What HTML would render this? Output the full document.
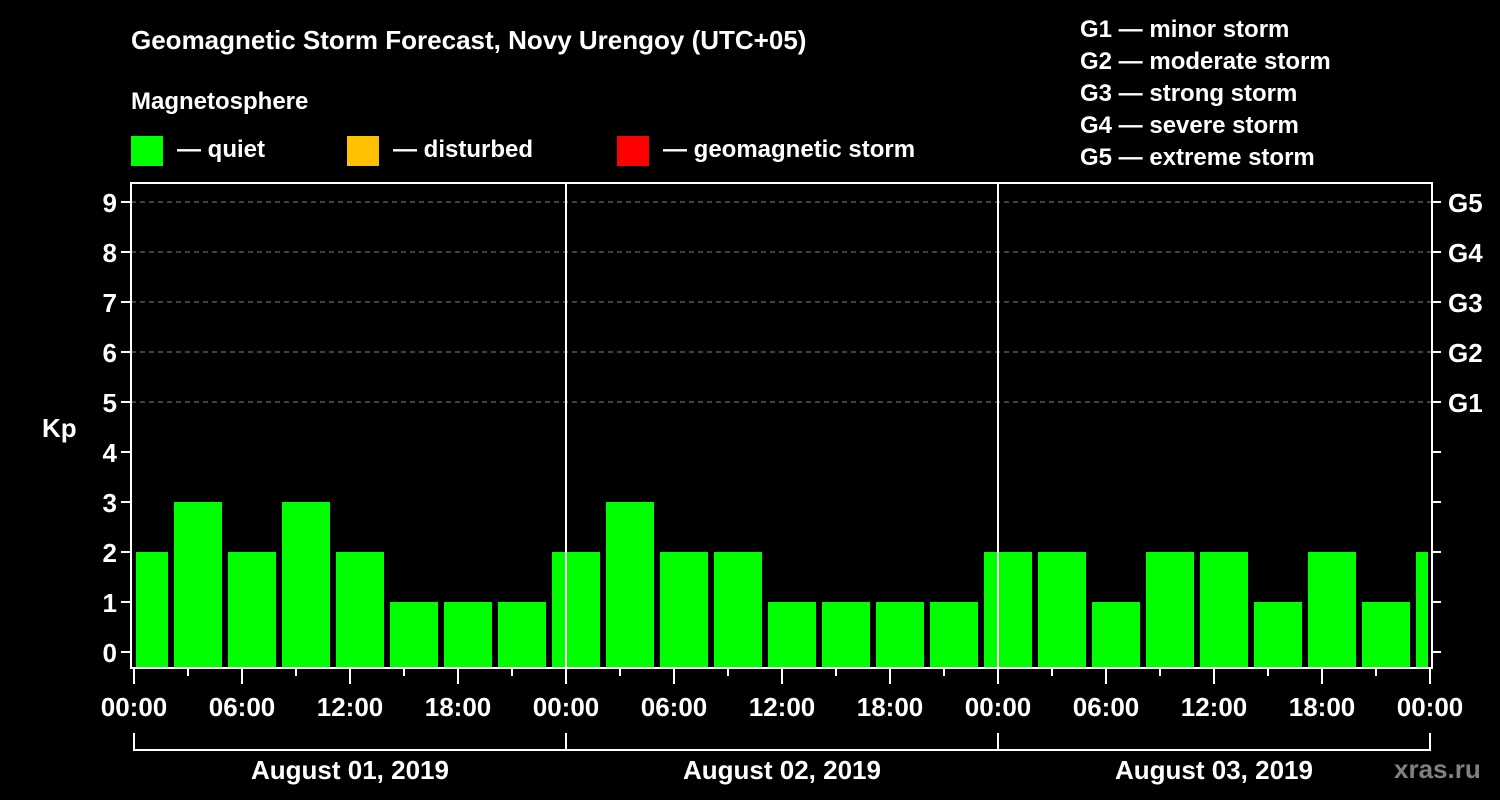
<!DOCTYPE html>
<html><head><meta charset="utf-8"><style>
body{margin:0;background:#000;width:1500px;height:800px;overflow:hidden}
svg{display:block;font-family:"Liberation Sans",Arial,sans-serif;font-weight:bold}
</style></head><body>
<svg id="chart" width="1500" height="800" viewBox="0 0 1500 800">
<rect width="1500" height="800" fill="#000"/>
<text x="131" y="49" fill="#fff" font-size="26">Geomagnetic Storm Forecast, Novy Urengoy (UTC+05)</text>
<text x="131" y="109" fill="#fff" font-size="24">Magnetosphere</text>
<g><rect x="131" y="136" width="32" height="30" fill="#00ff00"/><text x="177" y="157" fill="#fff" font-size="24">— quiet</text></g>
<g><rect x="347" y="136" width="32" height="30" fill="#ffc000"/><text x="393" y="157" fill="#fff" font-size="24">— disturbed</text></g>
<g><rect x="617" y="136" width="32" height="30" fill="#ff0000"/><text x="663" y="157" fill="#fff" font-size="24">— geomagnetic storm</text></g>
<g fill="#fff" font-size="24">
<text x="1080" y="37">G1 — minor storm</text>
<text x="1080" y="69">G2 — moderate storm</text>
<text x="1080" y="101">G3 — strong storm</text>
<text x="1080" y="133">G4 — severe storm</text>
<text x="1080" y="165">G5 — extreme storm</text>
</g>
<text x="42" y="437" fill="#fff" font-size="26">Kp</text>
<text x="1394" y="778" fill="#808080" font-size="26">xras.ru</text>
<g id="grid"></g><g id="bars"></g><g id="axes"></g>
</svg>
<script>
const dayLabels = ["August 01, 2019","August 02, 2019","August 03, 2019"];
const kpValues = [2,3,2,3,2,1,1,1, 2,3,2,2,1,1,1,1, 2,2,1,2,2,1,2,1, 2];
const yTicks = [0,1,2,3,4,5,6,7,8,9];
const gLabels = ["G1","G2","G3","G4","G5"];
const gLevels = [5,6,7,8,9];
const hourLabels = ["00:00","06:00","12:00","18:00"];

const NS="http://www.w3.org/2000/svg";
const L=131,R=1432,T=183,B=668,X0=134,DAYW=432;
const y=v=>652-50*v;
const x=h=>X0+h*DAYW/24;
function mk(tag,attrs,parent,txt){const e=document.createElementNS(NS,tag);for(const k in attrs)e.setAttribute(k,attrs[k]);if(txt!==undefined)e.textContent=txt;document.getElementById(parent).appendChild(e);return e;}
function color(v){return v>=5?"#ff0000":v>=4?"#ffc000":"#00ff00";}

gLevels.forEach((g,i)=>{
  const ln=mk("line",{x1:L,x2:R,y1:y(g),y2:y(g),stroke:"#808080","stroke-width":1,"stroke-dasharray":"5,4"},"grid");
  
  
  const t=mk("text",{x:1448,y:y(g)+10,fill:"#fff","font-size":26},"axes",gLabels[i]);
  
  
});
kpValues.forEach((v,k)=>{
  const c=x(3*k)+10;
  let l=Math.max(c-24,L+5), r=Math.min(c+24,R-4);
  const b=mk("rect",{x:l,y:y(v),width:r-l,height:B-y(v),fill:color(v)},"bars");
  
  
});
// frame
const fr=mk("rect",{x:L,y:T,width:R-L,height:B-T,fill:"none",stroke:"#fff","stroke-width":2},"axes");


[1,2].forEach(d=>{
  const ln=mk("line",{x1:x(24*d),x2:x(24*d),y1:T,y2:B,stroke:"#fff","stroke-width":2},"axes");
  
  
});
yTicks.forEach(v=>{
  mk("line",{x1:L-10,x2:L,y1:y(v),y2:y(v),stroke:"#fff","stroke-width":2},"axes");
  mk("line",{x1:R,x2:R+9,y1:y(v),y2:y(v),stroke:"#fff","stroke-width":2},"axes");
  const t=mk("text",{x:L-14,y:y(v)+10,fill:"#fff","font-size":26,"text-anchor":"end"},"axes",String(v));
  
  
});
for(let h=0;h<=72;h+=3){
  const major=h%6===0;
  mk("line",{x1:x(h),x2:x(h),y1:B,y2:B+(major?16:8),stroke:"#fff","stroke-width":2},"axes");
  if(major){
    const t=mk("text",{x:x(h),y:716,fill:"#fff","font-size":26,"text-anchor":"middle"},"axes",h===72?"00:00":hourLabels[(h%24)/6]);
    
    
  }
}
dayLabels.forEach((d,i)=>{
  const a=x(24*i),b=x(24*(i+1));
  mk("path",{d:`M${a},733V750H${b}V733`,fill:"none",stroke:"#fff","stroke-width":2},"axes");
  const t=mk("text",{x:(a+b)/2,y:779,fill:"#fff","font-size":26,"text-anchor":"middle"},"axes",d);
  
  
});
</script>
</body></html>
